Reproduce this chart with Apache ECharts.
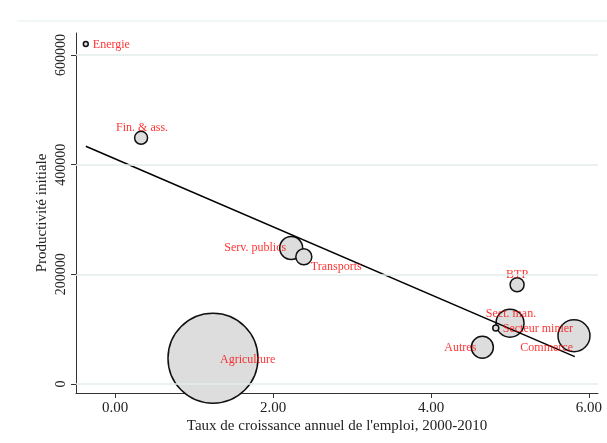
<!DOCTYPE html>
<html>
<head>
<meta charset="utf-8">
<script src="https://cdn.jsdelivr.net/npm/echarts@6/dist/echarts.min.js"></script>
<style>html,body{margin:0;padding:0;background:#fff}#c{width:607px;height:443px}</style>
</head>
<body>
<div id="c"></div>
<script>
// Data
var sectors = ['Energie','Fin. & ass.','Serv. publics','Transports','Agriculture','BTP','Sect. man.','Secteur minier','Autres','Commerce'];
var growth = [-0.37, 0.33, 2.23, 2.39, 1.24, 5.09, 5.00, 4.82, 4.65, 5.81];
var productivity = [620000, 449000, 248000, 232000, 47000, 181000, 111000, 102000, 67000, 88000];
var weights = [6, 42, 132, 64, 2025, 49, 196, 9, 121, 256];
var fitX = [-0.37, 5.82];
var fitY = [433500, 50000];
var xTicks = [0, 2, 4, 6];
var yTicks = [0, 200000, 400000, 600000];

// Label placement (style)
var labelPlace = [
  {align:'left', offset:[7,1]},
  {align:'center', offset:[1,-10]},
  {align:'right', offset:[-5,0]},
  {align:'left', offset:[7,10]},
  {align:'left', offset:[7,2]},
  {align:'center', offset:[0,-10]},
  {align:'center', offset:[1,-9]},
  {align:'left', offset:[7,1]},
  {align:'right', offset:[-6,1]},
  {align:'right', offset:[-1,12]}
];

var serif = 'Liberation Serif';
var bubbleData = sectors.map(function(s,i){ return {name:s, value:[growth[i], productivity[i], weights[i]]}; });
var labelData = sectors.map(function(s,i){
  return {name:s, value:[growth[i], productivity[i]], label:{show:true, position:'inside', align:labelPlace[i].align, verticalAlign:'middle', offset:labelPlace[i].offset}};
});

var chart = echarts.init(document.getElementById('c'), null, {renderer:'canvas'});
chart.setOption({
  animation:false,
  backgroundColor:'#fff',
  grid:{left:76, right:9, top:33, bottom:50, containLabel:false},
  graphic:[{type:'line', shape:{x1:17,y1:21,x2:607,y2:21}, style:{stroke:'#e4eeee', lineWidth:1}, silent:true}],
  xAxis:{
    type:'value', min:-0.494, max:6.114,
    name:"Taux de croissance annuel de l'emploi, 2000-2010",
    nameLocation:'middle', nameGap:26, nameMoveOverlap:false,
    nameTextStyle:{fontFamily:serif, fontSize:15, color:'#222', verticalAlign:'top'},
    axisLine:{show:true, onZero:false, lineStyle:{color:'#333', width:1}},
    axisTick:{show:true, length:5, customValues:xTicks, lineStyle:{color:'#333'}},
    axisLabel:{customValues:xTicks, margin:8, fontFamily:serif, fontSize:15, color:'#222', formatter:function(v){return v.toFixed(2);}},
    splitLine:{show:false}
  },
  yAxis:{
    type:'value', min:-16400, max:640100,
    name:'Productivité initiale',
    nameLocation:'middle', nameGap:26, nameMoveOverlap:false,
    nameTextStyle:{fontFamily:serif, fontSize:15, color:'#222'},
    axisLine:{show:true, onZero:false, lineStyle:{color:'#333', width:1}},
    axisTick:{show:true, length:5, customValues:yTicks, lineStyle:{color:'#333'}},
    axisLabel:{customValues:yTicks, rotate:90, margin:8, fontFamily:serif, fontSize:14, color:'#222', formatter:function(v){return String(Math.round(v));}},
    splitLine:{show:false}
  },
  series:[
    {
      type:'line', data:yTicks.map(function(t){return [0,t];}), symbol:'none', lineStyle:{opacity:0}, silent:true, z:1,
      markLine:{silent:true, symbol:'none', label:{show:false}, lineStyle:{color:'#e2eded', type:'solid', width:1.5},
        data:yTicks.map(function(t){return {yAxis:t};})}
    },
    {
      type:'scatter', data:bubbleData, z:2,
      symbolSize:function(v){ return 2*Math.sqrt(v[2]); },
      itemStyle:{color:'#dddddd', borderColor:'#111', borderWidth:1.5, opacity:1}
    },
    {
      type:'line', data:fitX.map(function(x,i){return [x, fitY[i]];}), symbol:'none', z:3,
      lineStyle:{color:'#000', width:1.5}
    },
    {
      type:'scatter', data:labelData, z:4, symbolSize:1, itemStyle:{color:'rgba(0,0,0,0)'},
      label:{show:true, formatter:'{b}', fontFamily:serif, fontSize:12, color:'#ff0000'}
    }
  ]
});
</script>
</body>
</html>
